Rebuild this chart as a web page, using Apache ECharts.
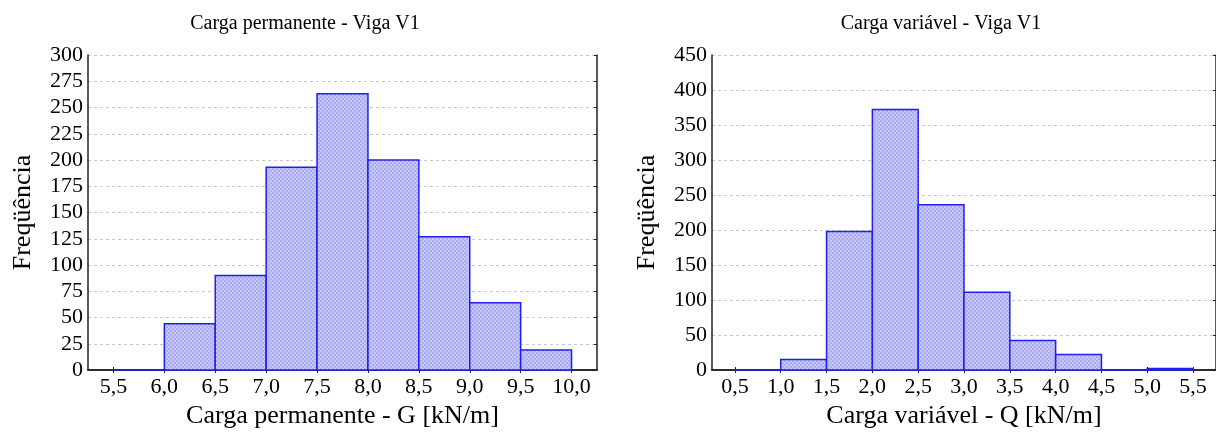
<!DOCTYPE html>
<html>
<head>
<meta charset="utf-8">
<script src="https://cdn.jsdelivr.net/npm/echarts@6/dist/echarts.min.js"></script>
<style>
html,body{margin:0;padding:0;background:#fff;}
#c{width:1216px;height:448px;}
</style>
</head>
<body>
<div id="c"></div>
<script>
// ---- data ----
const binWidth = 0.5;
const gBinStarts = [5.5, 6.0, 6.5, 7.0, 7.5, 8.0, 8.5, 9.0, 9.5];
const gCounts    = [0, 44, 90, 193, 263, 200, 127, 64, 19];
const gTicks     = [5.5, 6.0, 6.5, 7.0, 7.5, 8.0, 8.5, 9.0, 9.5, 10.0];

const qBinStarts = [0.5, 1.0, 1.5, 2.0, 2.5, 3.0, 3.5, 4.0, 4.5, 5.0];
const qCounts    = [0, 15, 198, 372, 236, 111, 42, 22, 0, 2];
const qTicks     = [0.5, 1.0, 1.5, 2.0, 2.5, 3.0, 3.5, 4.0, 4.5, 5.0, 5.5];

const titles = ['Carga permanente - Viga V1', 'Carga variável - Viga V1'];
const xNames = ['Carga permanente - G [kN/m]', 'Carga variável - Q [kN/m]'];
const yName = 'Freqüência';

// ---- chart ----
const FONT = '"Liberation Serif", "Times New Roman", serif';
const fmt = v => v.toFixed(1).replace('.', ',');

// fine checker fill like the original hatch
const pat = document.createElement('canvas');
pat.width = 4; pat.height = 4;
(function () {
  const c = pat.getContext('2d');
  c.fillStyle = '#c6c6fa'; c.fillRect(0, 0, 4, 4);
  c.fillStyle = '#acacf0'; c.fillRect(0, 0, 2, 2); c.fillRect(2, 2, 2, 2);
})();

function histData(starts, counts) {
  return starts.map((s, i) => [s, s + binWidth, counts[i]]);
}

function renderBar(params, api) {
  const p0 = api.coord([api.value(0), 0]);
  const p1 = api.coord([api.value(1), api.value(2)]);
  return {
    type: 'rect',
    shape: { x: p0[0], y: p1[1], width: p1[0] - p0[0], height: p0[1] - p1[1] },
    style: { fill: { image: pat, repeat: 'repeat' }, stroke: '#1f1ff0', lineWidth: 1.5 }
  };
}

function xAxes(gridIndex, min, max, ticks, name) {
  return [
    {
      type: 'value', gridIndex, min, max, position: 'bottom',
      name, nameLocation: 'middle', nameGap: 30,
      nameTextStyle: { fontFamily: FONT, fontSize: 26, color: '#000' },
      axisLine: { lineStyle: { color: '#222', width: 1.5 } },
      axisTick: { inside: true, length: 3, customValues: ticks, lineStyle: { color: '#222' } },
      axisLabel: { customValues: ticks, formatter: fmt, fontFamily: FONT, fontSize: 22, color: '#000', margin: 6 },
      splitLine: { show: false }
    },
    {
      type: 'value', gridIndex, min, max, position: 'top',
      axisLine: { lineStyle: { color: '#222', width: 1.5 } },
      axisTick: { inside: true, length: 3, customValues: ticks, lineStyle: { color: '#222' } },
      axisLabel: { show: false },
      splitLine: { show: false }
    }
  ];
}

function yAxes(gridIndex, max, interval, gap) {
  return [
    {
      type: 'value', gridIndex, min: 0, max, interval, position: 'left',
      name: yName, nameLocation: 'middle', nameGap: gap, nameRotate: 90,
      nameTextStyle: { fontFamily: FONT, fontSize: 26, color: '#000' },
      axisLine: { show: true, lineStyle: { color: '#222', width: 1.5 } },
      axisTick: { show: false },
      axisLabel: { fontFamily: FONT, fontSize: 22, color: '#000', margin: 5 },
      splitLine: { show: true, lineStyle: { color: '#c8c8c8', type: [3, 3], width: 1 } }
    },
    {
      type: 'value', gridIndex, min: 0, max, interval, position: 'right',
      axisLine: { show: true, lineStyle: { color: '#222', width: 1.5 } },
      axisTick: { show: true, inside: true, length: 3, lineStyle: { color: '#222' } },
      axisLabel: { show: false },
      splitLine: { show: false }
    }
  ];
}

const chart = echarts.init(document.getElementById('c'), null, { renderer: 'canvas' });
chart.setOption({
  backgroundColor: '#fff',
  animation: false,
  title: [
    { text: titles[0], left: 300, top: 9, textAlign: 'center',
      textStyle: { fontFamily: FONT, fontSize: 20, fontWeight: 'normal', color: '#000' } },
    { text: titles[1], left: 936, top: 9, textAlign: 'center',
      textStyle: { fontFamily: FONT, fontSize: 20, fontWeight: 'normal', color: '#000' } }
  ],
  grid: [
    { left: 88, top: 55, width: 509, height: 315 },
    { left: 712, top: 55, width: 508, height: 315 }
  ],
  xAxis: [
    ...xAxes(0, 5.25, 10.25, gTicks, xNames[0]),
    ...xAxes(1, 0.25, 5.75, qTicks, xNames[1])
  ],
  yAxis: [
    ...yAxes(0, 300, 25, 52),
    ...yAxes(1, 450, 50, 52)
  ],
  series: [
    { type: 'custom', xAxisIndex: 0, yAxisIndex: 0, renderItem: renderBar,
      encode: { x: [0, 1], y: 2 }, data: histData(gBinStarts, gCounts), clip: false },
    { type: 'custom', xAxisIndex: 2, yAxisIndex: 2, renderItem: renderBar,
      encode: { x: [0, 1], y: 2 }, data: histData(qBinStarts, qCounts), clip: false }
  ]
});
</script>
</body>
</html>
